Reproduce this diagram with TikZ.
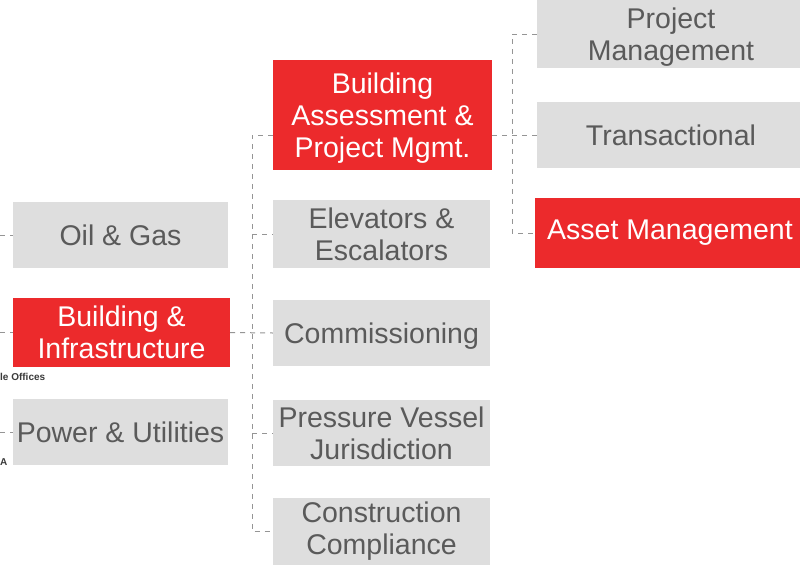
\documentclass[tikz,border=0pt]{standalone}
\usepackage{fontspec}
\setmainfont{Liberation Sans}
\definecolor{boxgray}{HTML}{DEDEDE}
\definecolor{boxred}{HTML}{EC2A2C}
\definecolor{txtgray}{HTML}{5A5A5A}
\definecolor{linegray}{HTML}{959595}
\definecolor{notegray}{HTML}{3A3A3A}

\tikzset{
  unit/.style={inner sep=0pt, align=center, anchor=center,
    font=\fontsize{28.5}{32}\selectfont},
  graybox/.style={unit, fill=boxgray, text=txtgray},
  redbox/.style={unit, fill=boxred, text=white},
  link/.style={draw=linegray, line width=1pt, dash pattern=on 5pt off 5pt},
  note/.style={inner sep=0pt, text=notegray, font=\bfseries\fontsize{10}{11}\selectfont},
}

\begin{document}
\begin{tikzpicture}[x=1pt,y=-1pt]
\clip (0,0) rectangle (800,573);
\fill[white] (0,0) rectangle (800,573);

% first column
\node[graybox, minimum width=215pt, minimum height=66pt] (og) at (120.5,235) {Oil \& Gas};
\node[redbox,  minimum width=217pt, minimum height=69pt] (bi) at (121.5,332.5) {Building \&\\Infrastructure};
\node[graybox, minimum width=215pt, minimum height=66pt] (pu) at (120.5,432) {Power \& Utilities};

% second column (boxes whose text sits a little low get a separate text node)
\node[redbox,  minimum width=219pt, minimum height=110pt] (bapm) at (382.5,115) {};
\node[unit, text=white] (bapmtext) at ([yshift=-3pt]bapm.center) {Building\\Assessment \&\\Project Mgmt.};
\node[graybox, minimum width=217pt, minimum height=68pt] (ee)  at (381.5,234) {Elevators \&\\Escalators};
\node[graybox, minimum width=217pt, minimum height=66pt] (com) at (381.5,333) {};
\node[unit, text=txtgray] (comtext) at ([yshift=-3pt]com.center) {Commissioning};
\node[graybox, minimum width=217pt, minimum height=66pt] (pvj) at (381.5,433) {Pressure Vessel\\Jurisdiction};
\node[graybox, minimum width=217pt, minimum height=67pt] (cc)  at (381.5,531.5) {Construction\\Compliance};

% third column
\node[graybox, minimum width=268pt, minimum height=68pt] (pm) at (671,34) {};
\node[unit, text=txtgray] (pmtext) at ([yshift=-3pt]pm.center) {Project\\Management};
\node[graybox, minimum width=268pt, minimum height=66pt] (tr) at (671,135) {Transactional};
\node[redbox,  minimum width=270pt, minimum height=70pt] (am) at (670,233) {Asset Management};

% fragments of labels at the left edge
\node[note, anchor=west] (offices) at (0,377) {le Offices};
\node[note, anchor=west] (mark) at (0,462) {A};

% connectors
\coordinate (edge) at (0,0);
\coordinate (ltop) at (252,135);
\coordinate (rtop) at (512,35);

\draw[link] (edge |- og.west) -- (og.west);
\draw[link] (edge |- bi.west) -- (bi.west);
\draw[link] (edge |- pu.west) -- (pu.west);

\draw[link] (bapm.west |- ltop) -- (ltop) -- (ltop |- cc.west) -- (cc.west);
\draw[link] (ltop |- ee.west) -- (ee.west);
\draw[link] (bi.east) -- (com.west);
\draw[link] (ltop |- pvj.west) -- (pvj.west);

\draw[link] (pm.west) -- (rtop |- pm.west) -- (rtop |- am.west) -- (am.west);
\draw[link] (bapm.east |- tr.west) -- (tr.west);
\end{tikzpicture}
\end{document}
